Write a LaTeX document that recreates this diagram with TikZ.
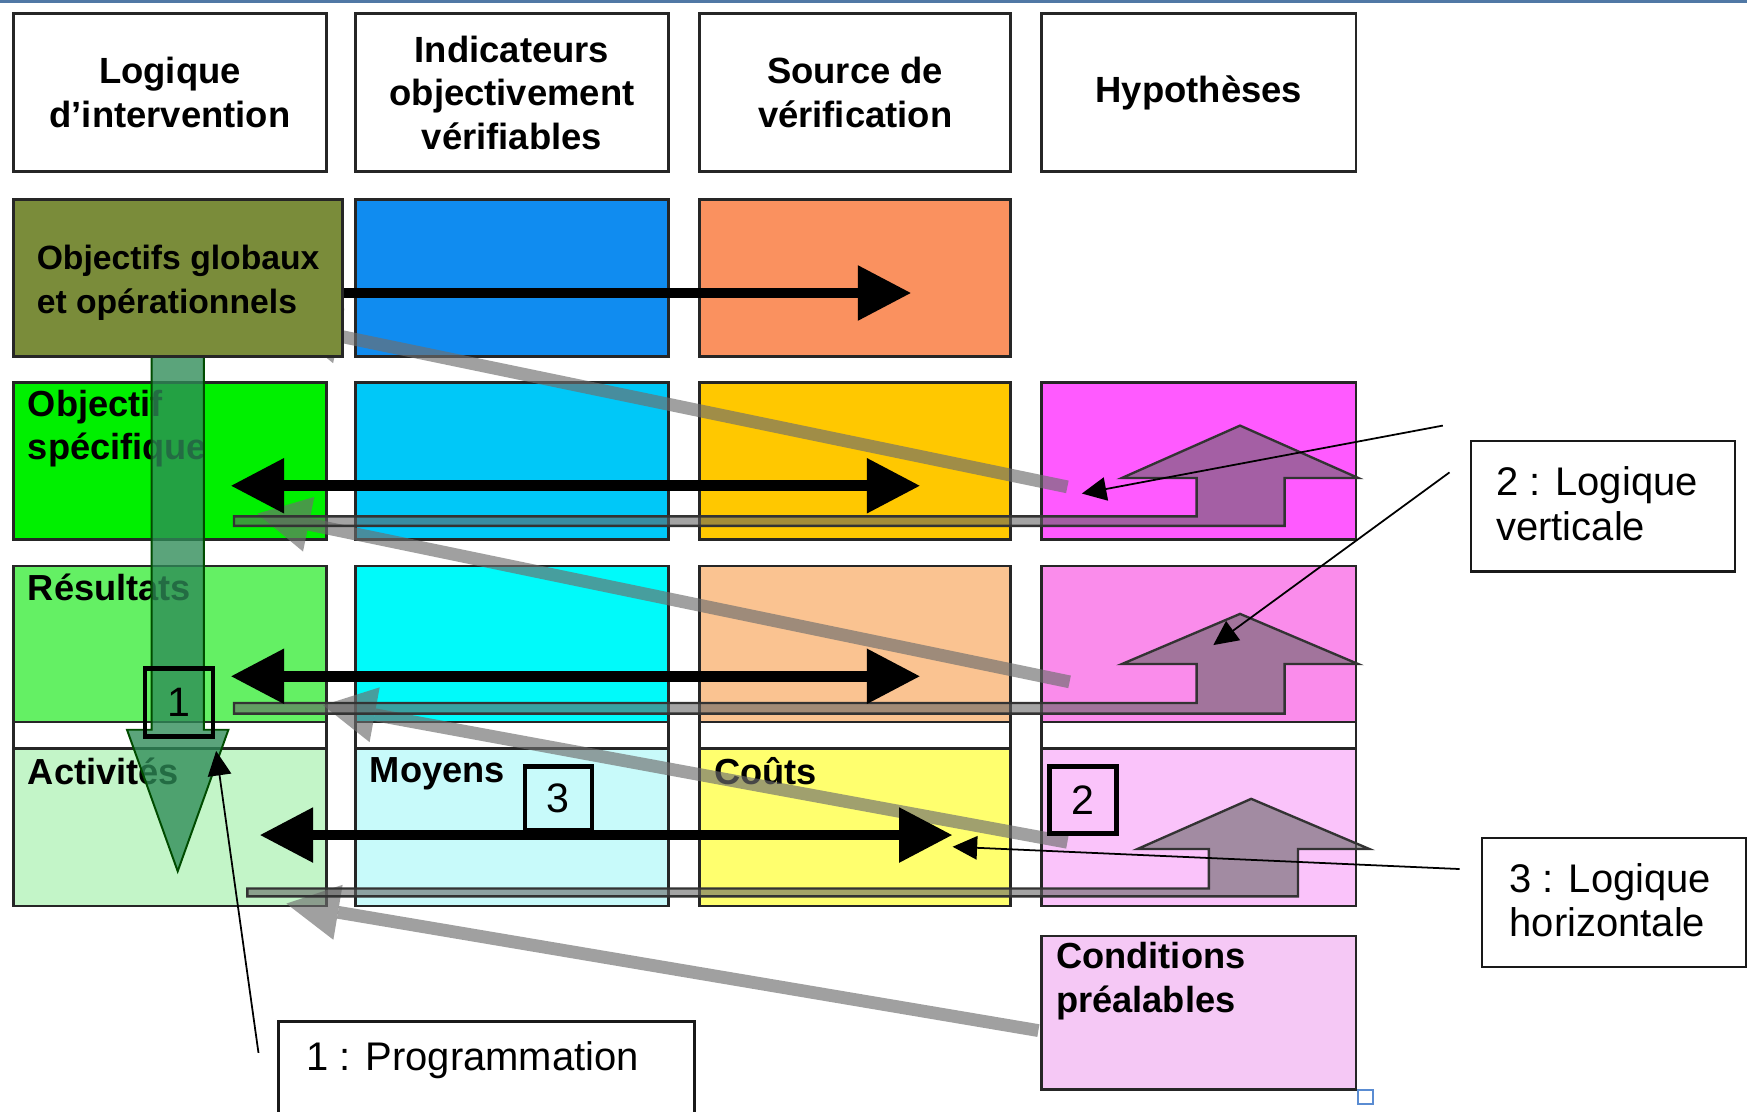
\documentclass[tikz,border=0pt]{standalone}
\usepackage{fontspec}
\setmainfont{Liberation Sans}
\usetikzlibrary{arrows.meta}
\definecolor{cTop}{RGB}{80,120,165}
\definecolor{cOlive}{RGB}{122,140,58}
\definecolor{cBlue}{RGB}{16,140,240}
\definecolor{cOrange}{RGB}{250,145,95}
\definecolor{cGa}{RGB}{0,240,0}
\definecolor{cCa}{RGB}{0,200,248}
\definecolor{cAa}{RGB}{255,200,0}
\definecolor{cMa}{RGB}{255,90,255}
\definecolor{cGb}{RGB}{100,240,100}
\definecolor{cCb}{RGB}{0,250,250}
\definecolor{cPb}{RGB}{250,195,145}
\definecolor{cMb}{RGB}{250,140,235}
\definecolor{cGc}{RGB}{195,245,200}
\definecolor{cCc}{RGB}{200,250,250}
\definecolor{cYc}{RGB}{255,255,110}
\definecolor{cMc}{RGB}{250,195,250}
\definecolor{cCond}{RGB}{245,200,245}
\definecolor{cGrayA}{RGB}{110,110,110}
\definecolor{cHyp}{RGB}{99,99,99}
\definecolor{cSea}{RGB}{46,139,87}
\definecolor{cHandle}{RGB}{90,140,210}
\begin{document}
\begin{tikzpicture}[x=0.01cm,y=-0.01cm,
  every node/.style={inner sep=0pt, outer sep=0pt},
  box/.style={draw=black!85, line width=0.7pt, anchor=north west},
  hdr/.style={box, fill=white, align=center, font=\fontsize{9.3}{11.1}\selectfont\bfseries},
  lbl/.style={anchor=north west, align=left, font=\fontsize{9.25}{11.1}\selectfont\bfseries},
  note/.style={draw=black!90, line width=0.6pt, fill=white, anchor=north west},
  notetxt/.style={anchor=west, align=left, font=\fontsize{10.2}{11.4}\selectfont},
  numbox/.style={draw=black, line width=1.1pt, anchor=north west, font=\fontsize{10.5}{12}\selectfont},
  BigT/.tip={Triangle[length=0.48cm,width=0.47cm]},
  GrayT/.tip={Triangle[length=0.47cm,width=0.50cm,line width=0pt]},
  ThinT/.tip={Triangle[length=0.22cm,width=0.21cm]},
  blk/.style={line width=2.75pt, black},
  grayarrow/.style={line width=0.115cm, cGrayA, opacity=0.65, -GrayT},
  hyp/.style={fill=cHyp, fill opacity=0.58, draw=black!80, line width=0.6pt},
  annarrow/.style={line width=0.45pt, black, -ThinT}
]
\useasboundingbox (0,0) rectangle (1568,998);
\fill[white] (0,0) rectangle (1568,998);
\fill[cTop] (0,0) rectangle (1568,3);

% headers
\node[hdr, minimum width=2.81cm, minimum height=1.42cm] (h1) at (12,12) {Logique\\d’intervention};
\node[hdr, minimum width=2.81cm, minimum height=1.42cm] (h2) at (319,12) {Indicateurs\\objectivement\\vérifiables};
\node[hdr, minimum width=2.79cm, minimum height=1.42cm] (h3) at (628,12) {Source de\\vérification};
\node[hdr, minimum width=2.82cm, minimum height=1.42cm] (h4) at (935,12) {Hypothèses};

% row 1
\node[box, fill=cBlue, minimum width=2.81cm, minimum height=1.41cm] (ind1) at (319,179) {};
\node[box, fill=cOrange, minimum width=2.79cm, minimum height=1.41cm] (src1) at (628,179) {};
% row 2
\node[box, fill=cGa, minimum width=2.81cm, minimum height=1.41cm] (log2) at (12,343) {};
\node[box, fill=cCa, minimum width=2.81cm, minimum height=1.41cm] (ind2) at (319,343) {};
\node[box, fill=cAa, minimum width=2.79cm, minimum height=1.41cm] (src2) at (628,343) {};
\node[box, fill=cMa, minimum width=2.82cm, minimum height=1.41cm] (hyp2) at (935,343) {};
% row 3
\node[box, fill=cGb, minimum width=2.81cm, minimum height=1.40cm] (log3) at (12,508) {};
\node[box, fill=cCb, minimum width=2.81cm, minimum height=1.40cm] (ind3) at (319,508) {};
\node[box, fill=cPb, minimum width=2.79cm, minimum height=1.40cm] (src3) at (628,508) {};
\node[box, fill=cMb, minimum width=2.82cm, minimum height=1.40cm] (hyp3) at (935,508) {};
% row 4 (white band + coloured part)
\node[box, fill=white, minimum width=2.81cm, minimum height=1.65cm] (w1) at (12,648) {};
\node[box, fill=white, minimum width=2.81cm, minimum height=1.65cm] (w2) at (319,648) {};
\node[box, fill=white, minimum width=2.79cm, minimum height=1.65cm] (w3) at (628,648) {};
\node[box, fill=white, minimum width=2.82cm, minimum height=1.65cm] (w4) at (935,648) {};
\node[box, fill=cGc, minimum width=2.81cm, minimum height=1.41cm] (log4) at (12,672) {};
\node[box, fill=cCc, minimum width=2.81cm, minimum height=1.41cm] (ind4) at (319,672) {};
\node[box, fill=cYc, minimum width=2.79cm, minimum height=1.41cm] (src4) at (628,672) {};
\node[box, fill=cMc, minimum width=2.82cm, minimum height=1.41cm] (hyp4) at (935,672) {};
% conditions
\node[box, fill=cCond, minimum width=2.82cm, minimum height=1.38cm] (cond) at (935,840) {};
\node[draw=cHandle, line width=0.5pt, fill=white, minimum size=0.13cm, anchor=north west] (hdl) at (1219,978) {};

% labels
\node[lbl] (tObj) at (25,350) {Objectif\\spécifique};
\node[lbl] (tRes) at (25,515) {Résultats};
\node[lbl] (tAct) at (25,680) {Activités};
\node[lbl] (tMoy) at (332,680) {Moyens};
\node[lbl] (tCou) at (641,680) {Coûts};
\node[lbl] (tCond) at (948,846) {Conditions\\préalables};

% grey diagonal arrows
\coordinate (gAs) at (958,437); \coordinate (gAe) at (258,292);
\coordinate (gBs) at (960,612); \coordinate (gBe) at (231,461);
\coordinate (gCs) at (958,756); \coordinate (gCe) at (290,633);
\coordinate (gDs) at (932,925); \coordinate (gDe) at (257,811);
\draw[grayarrow] (gAs) -- (gAe);
\draw[grayarrow] (gBs) -- (gBe);
\draw[grayarrow] (gCs) -- (gCe);
\draw[grayarrow] (gDs) -- (gDe);

% hypothesis up-arrows with bars
\draw[hyp] (210,463.5) -- (1074,463.5) -- (1074,429) -- (1007,429) -- (1113,382) -- (1219,429) -- (1153,429) -- (1153,472) -- (210,472) -- cycle;
\draw[hyp] (210,631) -- (1074,631) -- (1074,596) -- (1007,596) -- (1113,551) -- (1219,596) -- (1153,596) -- (1153,640.5) -- (210,640.5) -- cycle;
\draw[hyp] (222,797.5) -- (1085,797.5) -- (1085,762) -- (1021,762) -- (1123,717) -- (1229,762) -- (1165,762) -- (1165,804.5) -- (222,804.5) -- cycle;

% black horizontal arrows
\coordinate (a1e) at (818,263);
\coordinate (a2l) at (207,436); \coordinate (a2r) at (826,436);
\coordinate (a3l) at (207,607); \coordinate (a3r) at (826,607);
\coordinate (a4l) at (233,749.5); \coordinate (a4r) at (855,749.5);
\draw[blk, -BigT] (300,263) -- (a1e);
\draw[blk, BigT-BigT] (a2l) -- (a2r);
\draw[blk, BigT-BigT] (a3l) -- (a3r);
\draw[blk, BigT-BigT] (a4l) -- (a4r);

% green programming arrow
\draw[fill=cSea, fill opacity=0.78, draw=black!70!green, line width=0.5pt]
  (136,318) -- (183,318) -- (183,655) -- (205,655) -- (159.5,782) -- (114,655) -- (136,655) -- cycle;

% global objectives box
\node[box, fill=cOlive, minimum width=2.95cm, minimum height=1.41cm] (glob) at (12,179) {};
\node[lbl, font=\fontsize{8.6}{11.1}\selectfont\bfseries] (tGlob) at (33,220) {Objectifs globaux\\et opérationnels};

% number boxes
\node[numbox, minimum width=0.61cm, minimum height=0.61cm] (n1) at (130,600) {1};
\node[numbox, minimum width=0.60cm, minimum height=0.57cm] (n3) at (471,688) {3};
\node[numbox, minimum width=0.60cm, minimum height=0.60cm] (n2) at (942,688) {2};

% annotation boxes
\node[note, minimum width=2.37cm, minimum height=1.17cm] (nV) at (1320,396) {};
\node[notetxt] (tV) at (1343,452) {2 : Logique\\verticale};
\node[note, minimum width=2.37cm, minimum height=1.16cm] (nH) at (1330,752) {};
\node[notetxt] (tH) at (1355,808) {3 : Logique\\horizontale};
\node[note, minimum width=3.73cm, minimum height=0.90cm] (nP) at (250,917) {};
\node[notetxt] (tP) at (275,952) {1 : Programmation};

% annotation arrows
\coordinate (p1s) at (232,945); \coordinate (p1e) at (194,674);
\coordinate (v1s) at (1295,382); \coordinate (v1e) at (971,443);
\coordinate (v2s) at (1301,424); \coordinate (v2e) at (1089,579);
\coordinate (z1s) at (1310,780); \coordinate (z1e) at (855,760);
\draw[annarrow] (p1s) -- (p1e);
\draw[annarrow] (v1s) -- (v1e);
\draw[annarrow] (v2s) -- (v2e);
\draw[annarrow] (z1s) -- (z1e);
\end{tikzpicture}
\end{document}
